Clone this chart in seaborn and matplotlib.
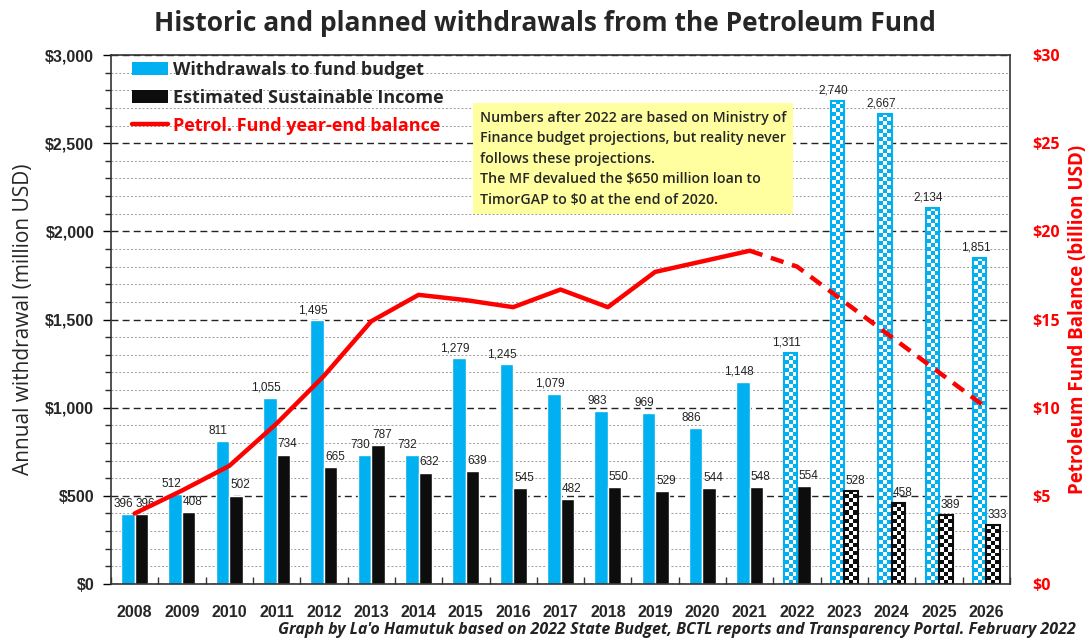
import matplotlib
matplotlib.use("Agg")
import matplotlib.pyplot as plt
import numpy as np
import pandas as pd
import seaborn as sns
from matplotlib.colors import ListedColormap
from matplotlib.lines import Line2D
from matplotlib.patches import Patch
from matplotlib.ticker import MultipleLocator, FuncFormatter

# Données
years = [str(y) for y in range(2008, 2027)]
withdrawals = [396, 512, 811, 1055, 1495, 730, 732, 1279, 1245, 1079,
               983, 969, 886, 1148, 1311, 2740, 2667, 2134, 1851]
sustainable = [396, 408, 502, 734, 665, 787, 632, 639, 545, 482,
               550, 529, 544, 548, 554, 528, 458, 389, 333]
balance = [4.0, 5.3, 6.7, 9.1, 11.8, 14.9, 16.4, 16.1, 15.7, 16.7,
           15.7, 17.7, 18.3, 18.9, 18.0, 16.0, 14.0, 12.0, 10.0]
LAST_ACTUAL = "2021"          # ligne pleine jusqu'ici, pointillés ensuite
PLANNED_BLUE = ["2022", "2023", "2024", "2025", "2026"]
PLANNED_BLACK = ["2023", "2024", "2025", "2026"]

S_WD = "Withdrawals to fund budget"
S_ESI = "Estimated Sustainable Income"
S_BAL = "Petrol. Fund year-end balance"

BLUE = "#00B0F0"
BLACK = "#0D0D0D"
RED = "#FF0000"

df = pd.DataFrame({
    "Year": years * 2,
    "Series": [S_WD] * len(years) + [S_ESI] * len(years),
    "Value": withdrawals + sustainable,
})

sns.set_theme(style="white")
plt.rcParams["font.family"] = ["Liberation Sans", "DejaVu Sans"]
NARROW = ["Liberation Sans Narrow", "Liberation Sans", "DejaVu Sans"]
CAL = ["Open Sans", "DejaVu Sans"]

fig = plt.figure(figsize=(10.89, 6.42), dpi=100)
ax = fig.add_axes([0.1019, 0.0903, 0.8256, 0.8240])

sns.barplot(data=df, x="Year", y="Value", hue="Series", hue_order=[S_WD, S_ESI],
            palette=[BLUE, BLACK], width=0.57, saturation=1, legend=False, ax=ax)

ax.set_xlim(-0.5, len(years) - 0.5)
ax.set_ylim(0, 3000)

# Étiquettes de valeurs (bleu décalé à gauche, noir à droite)
for cont, dx in zip(ax.containers, (-3, 3)):
    anns = ax.bar_label(cont, labels=[f"{v:,.0f}" for v in cont.datavalues],
                        padding=3, fontsize=8.5, family=NARROW, color="#222222")
    for a in anns:
        a.xyann = (dx, 3)

# Barres planifiées : damier
def checker(bar, color, cell=4.0):
    x0, y0 = bar.get_x(), bar.get_y()
    w, h = bar.get_width(), bar.get_height()
    p0 = ax.transData.transform((x0, y0))
    p1 = ax.transData.transform((x0 + w, y0 + h))
    nx = max(1, int(round((p1[0] - p0[0]) / cell)))
    ny = max(1, int(round((p1[1] - p0[1]) / cell)))
    grid = (np.add.outer(np.arange(ny), np.arange(nx)) % 2).astype(float)
    ax.imshow(grid, extent=(x0, x0 + w, y0, y0 + h), origin="lower", aspect="auto",
              interpolation="nearest", cmap=ListedColormap(["white", color]),
              vmin=0, vmax=1, zorder=bar.get_zorder())
    bar.set_facecolor("none")
    bar.set_edgecolor(color)
    bar.set_linewidth(1.5)
    bar.set_zorder(bar.get_zorder() + 0.1)

for bar, yr in zip(ax.containers[0], years):
    if yr in PLANNED_BLUE:
        checker(bar, BLUE)
for bar, yr in zip(ax.containers[1], years):
    if yr in PLANNED_BLACK:
        checker(bar, BLACK)

ax.set_xlim(-0.5, len(years) - 0.5)
ax.set_ylim(0, 3000)

# Grilles
ax.set_axisbelow(True)
ax.yaxis.set_major_locator(MultipleLocator(500))
ax.yaxis.set_minor_locator(MultipleLocator(100))
ax.grid(axis="y", which="minor", linestyle=(0, (2, 2)), color="#9A9A9A", linewidth=0.7)
ax.grid(axis="y", which="major", linestyle=(0, (5, 3)), color="#222222", linewidth=1.0)
ax.yaxis.set_major_formatter(FuncFormatter(lambda v, p: f"${v:,.0f}"))
ax.tick_params(axis="y", which="major", left=True, length=6, width=1, color="black",
               labelsize=11.5, pad=6)
ax.tick_params(axis="y", which="minor", left=False)
for lab in ax.get_yticklabels():
    lab.set_fontweight("bold")

ax.set_xticks(np.arange(len(years) + 1) - 0.5, minor=True)
ax.tick_params(axis="x", which="major", bottom=False, labelsize=11.5, pad=9)
ax.tick_params(axis="x", which="minor", bottom=True, direction="in", length=5,
               width=1, color="#333333")
for lab in ax.get_xticklabels():
    lab.set_fontweight("bold")

ax.set_xlabel("")
ax.set_ylabel("Annual withdrawal (million USD)", fontsize=15, family=CAL, labelpad=8)
for sp in ax.spines.values():
    sp.set_color("#333333")
    sp.set_linewidth(1.2)

# Solde du Fonds (axe droit)
ax2 = ax.twinx()
idx = np.arange(len(years))
cut = years.index(LAST_ACTUAL)
sns.lineplot(x=idx[:cut + 1], y=balance[:cut + 1], color=RED, linewidth=3.2, ax=ax2)
sns.lineplot(x=idx[cut:], y=balance[cut:], color=RED, linewidth=3.2, ax=ax2,
             linestyle=(0, (3, 2)))
ax2.set_ylim(0, 30)
ax2.set_xlim(-0.5, len(years) - 0.5)
ax2.yaxis.set_major_locator(MultipleLocator(5))
ax2.yaxis.set_major_formatter(FuncFormatter(lambda v, p: f"${v:,.0f}"))
ax2.tick_params(axis="y", right=False, labelsize=11.5, labelcolor=RED, pad=10)
for lab in ax2.get_yticklabels():
    lab.set_fontweight("bold")
    lab.set_family(CAL)
ax2.set_ylabel("Petroleum Fund Balance (billion USD)", color=RED, fontsize=13.5,
               fontweight="bold", family=CAL)
ax2.yaxis.set_label_coords(1.076, 0.5)
ax2.yaxis.label.set_verticalalignment("center")
ax2.grid(False)
for sp in ax2.spines.values():
    sp.set_visible(False)

# Légende
handles = [Patch(facecolor=BLUE, edgecolor="none"),
           Patch(facecolor=BLACK, edgecolor="none"),
           Line2D([0], [0], color=RED, linewidth=3.2)]
leg = ax2.legend(handles, [S_WD, S_ESI, S_BAL], loc="upper left",
                 bbox_to_anchor=(0.005, 1.02), frameon=False, handlelength=2.0,
                 handletextpad=0.3, labelspacing=0.55,
                 prop={"family": CAL, "size": 13, "weight": "bold"})
leg.get_texts()[2].set_color(RED)

# Note
note = ("Numbers after 2022 are based on Ministry of\n"
        "Finance budget projections, but reality never\n"
        "follows these projections.\n"
        "The MF devalued the $650 million loan to\n"
        "TimorGAP to $0 at the end of 2020.")
ax2.text(0.41, 0.895, note, transform=ax2.transAxes, va="top", ha="left",
         fontsize=10.2, family=CAL, fontweight="semibold", linespacing=1.6,
         zorder=10,
         bbox=dict(boxstyle="square,pad=0.5", facecolor="#FFFF9F", edgecolor="none"))

fig.suptitle("Historic and planned withdrawals from the Petroleum Fund",
             x=0.5, y=0.985, fontsize=19, fontweight="bold", family=CAL)
fig.text(0.988, 0.006, "Graph by La'o Hamutuk based on 2022 State Budget, BCTL reports "
         "and Transparency Portal. February 2022", ha="right", va="bottom",
         fontsize=11.5, style="italic", fontweight="bold", family=CAL, color="#222222")

fig.savefig("out.png", dpi=100)
